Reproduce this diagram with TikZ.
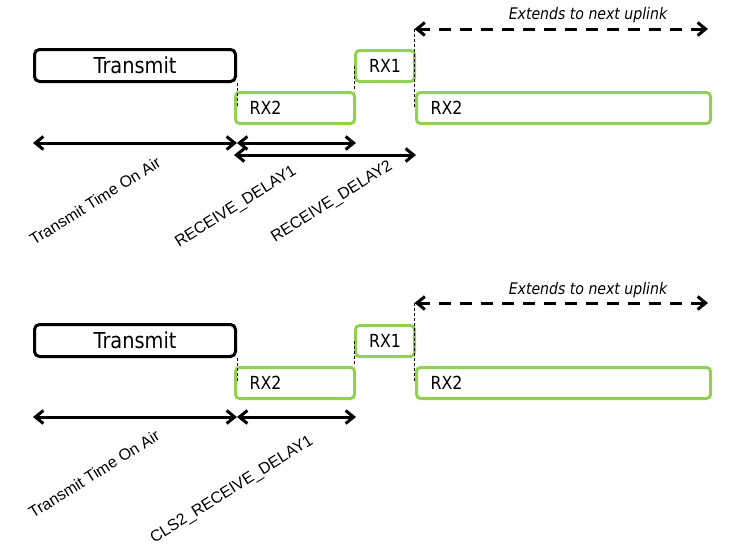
\documentclass[tikz,border=0pt]{standalone}
\usepackage{fontspec}
\setmainfont{DejaVu Sans}[FakeStretch=0.88]
\newfontfamily\arialfont{Liberation Sans}
\usetikzlibrary{arrows.meta}
\definecolor{rxgreen}{RGB}{146,208,80}
\tikzset{
  txbox/.style={draw=black, line width=3pt, rounded corners=5pt, minimum height=32pt, inner sep=0pt, anchor=north west, font=\fontsize{22}{24}\selectfont},
  rxbox/.style={draw=rxgreen, line width=3pt, rounded corners=4pt, minimum height=31pt, inner sep=0pt, anchor=north west, font=\fontsize{18}{20}\selectfont},
  dimarrow/.style={line width=3pt, {Straight Barb[length=8pt,width=13pt,line width=3pt]}-{Straight Barb[length=8pt,width=13pt,line width=3pt]}},
  extarrow/.style={dimarrow, dash pattern=on 12pt off 9pt},
  guide/.style={line width=0.9pt, dash pattern=on 3pt off 2pt},
  rotlabel/.style={font=\arialfont\fontsize{16}{18}\selectfont, rotate=32, inner sep=0pt},
  note/.style={font=\itshape\fontsize{16}{18}\selectfont, inner sep=0pt}
}
\begin{document}
\begin{tikzpicture}[x=1pt, y=-1pt]
\useasboundingbox (0,0) rectangle (751,557);

% ---------- top diagram ----------
\node[txbox, minimum width=201pt] (tx) at (33,48) {Transmit};
\node[rxbox, minimum width=119pt, text width=91pt, align=left] (rxa) at (234,91) {RX2};
\node[rxbox, minimum width=59pt] (rx1) at (354,49) {RX1};
\node[rxbox, minimum width=294pt, text width=266pt, align=left] (rxb) at (415,91) {RX2};

\coordinate (e1) at (414.5,29);
\coordinate (e2) at (708,29);
\draw[guide] (tx.south east) -- (tx.south east |- rxa.west);
\draw[guide] (rx1.west) -- (rx1.west |- rxa.north);
\draw[guide] (e1) -- (e1 |- rxb.west);
\draw[extarrow] (e1) -- (e2);
\node[note] (ext) at (588,15) {Extends to next uplink};

\coordinate (r1) at (0,143);
\coordinate (r2) at (0,155);
\draw[dimarrow] (tx.south west |- r1) -- (tx.south east |- r1);
\draw[dimarrow] (tx.south east |- r1) -- (rxa.south east |- r1);
\draw[dimarrow] (rxa.south west |- r2) -- (rx1.south east |- r2);

\node[rotlabel] (l1) at (95,201) {Transmit Time On Air};
\node[rotlabel] (l2) at (236,207) {RECEIVE\_DELAY1};
\node[rotlabel] (l3) at (332,202) {RECEIVE\_DELAY2};

% ---------- bottom diagram ----------
\node[txbox, minimum width=201pt] (btx) at (33,323) {Transmit};
\node[rxbox, minimum width=119pt, text width=91pt, align=left] (brxa) at (234,366) {RX2};
\node[rxbox, minimum width=59pt] (brx1) at (354,324) {RX1};
\node[rxbox, minimum width=294pt, text width=266pt, align=left] (brxb) at (415,366) {RX2};

\coordinate (be1) at (414.5,303);
\coordinate (be2) at (708,303);
\draw[guide] (btx.south east) -- (btx.south east |- brxa.west);
\draw[guide] (brx1.west) -- (brx1.west |- brxa.north);
\draw[guide] (be1) -- (be1 |- brxb.west);
\draw[extarrow] (be1) -- (be2);
\node[note] (bext) at (588,290) {Extends to next uplink};

\coordinate (br1) at (0,417);
\draw[dimarrow] (btx.south west |- br1) -- (btx.south east |- br1);
\draw[dimarrow] (btx.south east |- br1) -- (brxa.south east |- br1);

\node[rotlabel] (bl1) at (94,474) {Transmit Time On Air};
\node[rotlabel] (bl2) at (232,490) {CLS2\_RECEIVE\_DELAY1};
\end{tikzpicture}
\end{document}
